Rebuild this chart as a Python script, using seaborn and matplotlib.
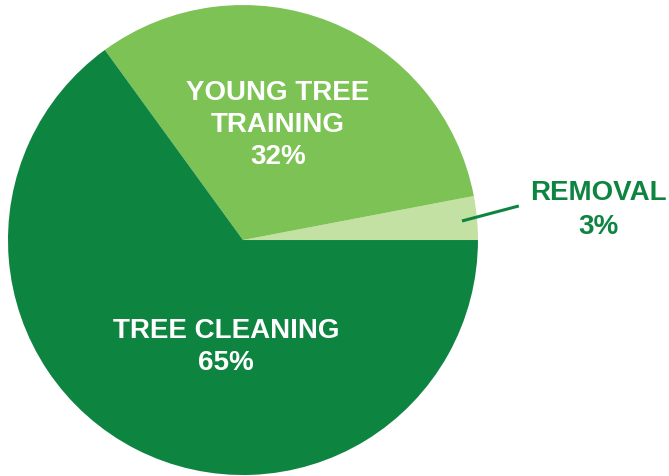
import matplotlib
matplotlib.use("Agg")
import matplotlib.pyplot as plt
import seaborn as sns

# data
labels = ["REMOVAL", "YOUNG TREE\nTRAINING", "TREE CLEANING"]
shares = [3, 32, 65]
colors = ["#c3e1a2", "#7cc254", "#0e8441"]

sns.set_theme(style="white")
plt.rcParams["font.family"] = ["Liberation Sans", "DejaVu Sans"]

fig = plt.figure(figsize=(6.69, 4.77), dpi=100)
ax = fig.add_axes([0, 0, 1, 1])

wedges, _ = ax.pie(shares, colors=colors, startangle=0, counterclock=True,
                   radius=1, wedgeprops=dict(linewidth=0))

# frame so the pie sits left like the reference
ax.set_xlim(-1.034, 1.813)
ax.set_ylim(-1.004, 1.0255)
ax.set_aspect("equal")
ax.axis("off")

txt = dict(ha="center", va="center", fontweight="bold", fontsize=20, linespacing=1.3)

# labels inside slices
ax.text(0.149, 0.494, f"{labels[1]}\n{shares[1]}%", color="white", **txt)
ax.text(-0.072, -0.452, f"{labels[2]}\n{shares[2]}%", color="white", **txt)

# removal label outside with a leader line
ax.plot([0.932, 1.174], [0.081, 0.145], color=colors[2], lw=2.2, solid_capstyle="butt")
ax.text(1.511, 0.131, f"{labels[0]}\n{shares[0]}%", color=colors[2],
        **{**txt, "linespacing": 1.4})

plt.savefig("out.png", dpi=100)
